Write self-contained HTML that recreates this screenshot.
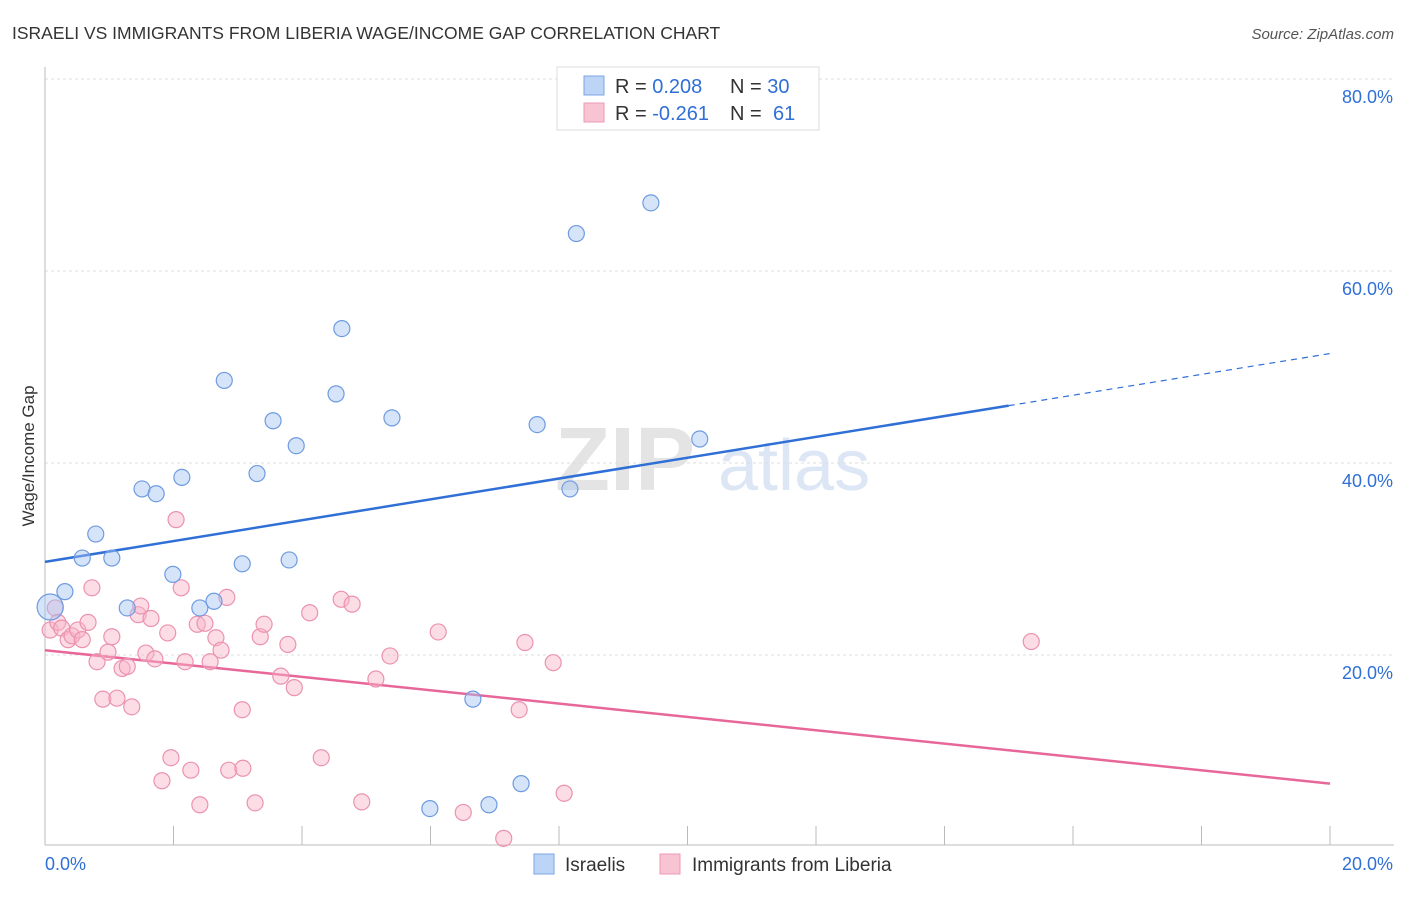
<!DOCTYPE html>
<html><head><meta charset="utf-8"><style>
body{margin:0;background:#fff;font-family:"Liberation Sans",sans-serif;}
svg text{font-family:"Liberation Sans",sans-serif;}
</style></head><body>
<svg id="chart" width="1406" height="892" xmlns="http://www.w3.org/2000/svg">
<text x="12" y="39" font-size="17.5" fill="#333">ISRAELI VS IMMIGRANTS FROM LIBERIA WAGE/INCOME GAP CORRELATION CHART</text>
<text x="1394" y="39" font-size="15" fill="#555" text-anchor="end" font-style="italic">Source: ZipAtlas.com</text>
<g>
<text x="555" y="490" font-size="90" font-family="Liberation Serif" fill="#e4e4e4" font-weight="bold">ZIP</text>
<text x="718" y="490" font-size="72" fill="#dce6f5">atlas</text>
</g>
<g id="grid"></g>
<g id="axes"></g>
<g id="lines"></g>
<g id="points"></g>
<text transform="translate(34,456) rotate(-90)" font-size="17" fill="#333" text-anchor="middle">Wage/Income Gap</text>
<g>
<rect x="557" y="67" width="262" height="63" fill="#fff" stroke="#ddd"/>
<rect x="584" y="76" width="20" height="19" fill="#bcd4f6" stroke="#7aa4e4"/>
<rect x="584" y="103" width="20" height="19" fill="#f8c4d4" stroke="#eb9ab4"/>
<text x="615" y="93" font-size="20" fill="#333">R = <tspan fill="#2f6fd6">0.208</tspan><tspan x="730">N = </tspan><tspan fill="#2f6fd6">30</tspan></text>
<text x="615" y="120" font-size="20" fill="#333">R = <tspan fill="#2f6fd6">-0.261</tspan><tspan x="730">N = </tspan><tspan x="773" fill="#2f6fd6">61</tspan></text>
</g>
<g>
<rect x="534" y="854" width="20" height="20" fill="#bcd4f6" stroke="#7aa4e4"/>
<text x="565" y="871" font-size="19" fill="#333">Israelis</text>
<rect x="660" y="854" width="20" height="20" fill="#f8c4d4" stroke="#eb9ab4"/>
<text x="692" y="871" font-size="19" fill="#333">Immigrants from Liberia</text>
</g>
</svg>
<script>
const blueX=[0.08,0.31,0.58,0.79,1.04,1.28,1.51,1.73,1.99,2.13,2.41,2.63,2.79,3.07,3.30,3.55,3.80,3.91,4.53,4.62,5.40,5.99,6.66,6.91,7.41,7.66,8.17,8.27,9.43,10.19];
const blueY=[25.0,26.6,30.1,32.6,30.1,24.9,37.3,36.8,28.4,38.5,24.9,25.6,48.6,29.5,38.9,44.4,29.9,41.8,47.2,54.0,44.7,4.0,15.4,4.4,6.6,44.0,37.3,63.9,67.1,42.5];
const pinkX=[0.08,0.16,0.20,0.26,0.36,0.42,0.51,0.58,0.67,0.73,0.81,0.90,0.98,1.04,1.12,1.20,1.28,1.35,1.45,1.49,1.57,1.65,1.71,1.82,1.91,1.96,2.04,2.12,2.18,2.27,2.37,2.41,2.49,2.57,2.66,2.74,2.83,2.86,3.07,3.08,3.27,3.35,3.41,3.67,3.78,3.88,4.12,4.30,4.61,4.78,4.93,5.15,5.37,6.12,6.51,7.14,7.38,7.47,7.91,8.08,15.35];
const pinkY=[22.6,24.9,23.4,22.8,21.6,22.0,22.6,21.6,23.4,27.0,19.3,15.4,20.3,21.9,15.5,18.6,18.8,14.6,24.2,25.1,20.2,23.8,19.6,6.9,22.3,9.3,34.1,27.0,19.3,8.0,23.2,4.4,23.3,19.3,21.8,20.5,26.0,8.0,14.3,8.2,4.6,21.9,23.2,17.8,21.1,16.6,24.4,9.3,25.8,25.3,4.7,17.5,19.9,22.4,3.6,0.9,14.3,21.3,19.2,5.6,21.4];
const blueTrend=[29.7,51.4]; // y at x=0 and x=20
const pinkTrend=[20.5,6.6];
const yTicks=[20,40,60,80];
const yTickLabels=["20.0%","40.0%","60.0%","80.0%"];
const xTicks=[0,2,4,6,8,10,12,14,16,18,20];

const NS="http://www.w3.org/2000/svg";
const X0=45,X1=1330,Y0=847,PXY=9.6;
const sx=v=>X0+(X1-X0)*v/20;
const sy=v=>Y0-v*PXY;
function mk(tag,attrs,parent){const e=document.createElementNS(NS,tag);for(const k in attrs)e.setAttribute(k,attrs[k]);parent.appendChild(e);return e;}
const grid=document.getElementById('grid'),axes=document.getElementById('axes'),lines=document.getElementById('lines'),pts=document.getElementById('points');
yTicks.forEach((t,i)=>{
 const l=mk('line',{x1:X0,x2:1394,y1:sy(t),y2:sy(t),stroke:'#ddd','stroke-dasharray':'3,3'},grid);
 
 
 const tx=mk('text',{x:1393,y:sy(t)+24,'font-size':18,fill:'#2f6fd6','text-anchor':'end'},axes);
 tx.textContent=yTickLabels[i];
 
 
});
const al=mk('line',{x1:X0,x2:X0,y1:67,y2:845,stroke:'#bbb'},axes);


const bl=mk('line',{x1:X0,x2:1394,y1:845,y2:845,stroke:'#bbb'},axes);


xTicks.forEach(t=>{
 const l=mk('line',{x1:sx(t),x2:sx(t),y1:826,y2:845,stroke:'#bbb'},axes);
 
 
});
[[0,"0.0%",'start',45],[20,"20.0%",'end',1393]].forEach(a=>{
 const tx=mk('text',{x:a[3],y:870,'font-size':18,fill:'#2f6fd6','text-anchor':a[2]},axes);
 tx.textContent=a[1];
 
 
});
function pt(x,y,r,fill,stroke,name){
 const c=mk('circle',{cx:sx(x),cy:sy(y),r:r,fill:fill,stroke:stroke,'stroke-width':1.2},pts);
 
 
}
pinkX.forEach((x,i)=>pt(x,pinkY[i],8,'rgba(248,180,200,0.45)','#eb92b0','point-liberia'));
blueX.forEach((x,i)=>pt(x,blueY[i],i===0?13:8,'rgba(164,196,244,0.45)','#6e9be0','point-israelis'));
const bx=15.0,by=blueTrend[0]+(blueTrend[1]-blueTrend[0])*bx/20;
const b1=mk('line',{x1:sx(0),y1:sy(blueTrend[0]),x2:sx(bx),y2:sy(by),stroke:'#2f6fd6','stroke-width':2.5},lines);


const b2=mk('line',{x1:sx(bx),y1:sy(by),x2:sx(20),y2:sy(blueTrend[1]),stroke:'#2f6fd6','stroke-width':1.2,'stroke-dasharray':'6,5'},lines);


const p1=mk('line',{x1:sx(0),y1:sy(pinkTrend[0]),x2:sx(20),y2:sy(pinkTrend[1]),stroke:'#e8679a','stroke-width':2.5},lines);


</script>
</body></html>
